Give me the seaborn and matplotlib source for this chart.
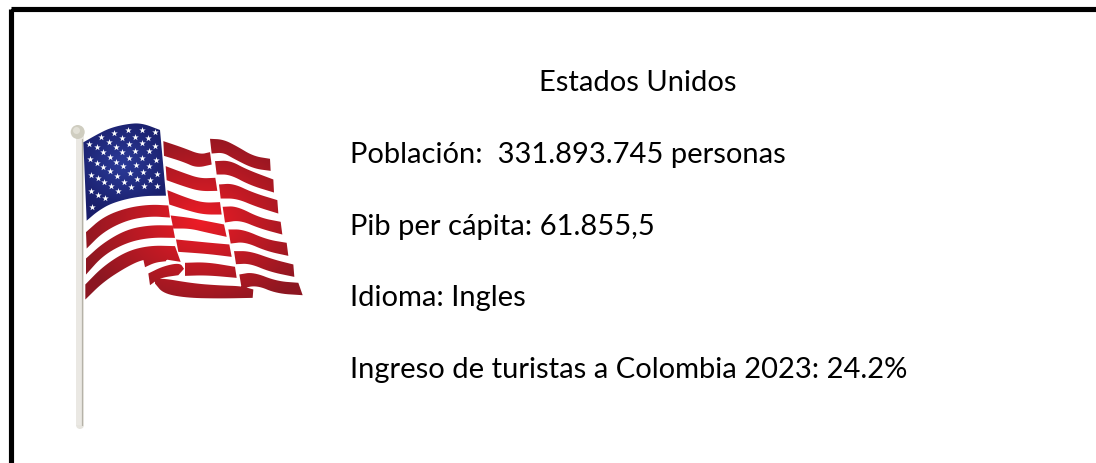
import numpy as np
import pandas as pd
import matplotlib
matplotlib.use("Agg")
import matplotlib.pyplot as plt
import seaborn as sns
from matplotlib.path import Path as MplPath
from matplotlib.patches import PathPatch, Rectangle, Circle

# Card text
title = "Estados Unidos"
info_lines = [
    "Población:  331.893.745 personas",
    "Pib per cápita: 61.855,5",
    "Idioma: Ingles",
    "Ingreso de turistas a Colombia 2023: 24.2%",
]
info_y = [153, 225, 296, 368]

# Flag outlines: (upper edge, lower edge) of each stripe
canton_top = [(70, 85), (110, 62), (150, 42), (200, 30), (245, 27), (300, 48)]
canton_bottom = [(318, 245), (240, 246), (160, 265), (115, 290), (80, 320)]

stripes = [
    ([(78, 358), (130, 312), (200, 285), (270, 275), (325, 278)],
     [(330, 307), (270, 303), (200, 315), (130, 350), (80, 400)]),
    ([(78, 437), (130, 390), (200, 350), (270, 337), (338, 338)],
     [(345, 368), (270, 367), (200, 382), (130, 420), (78, 478)]),
    ([(76, 515), (130, 460), (200, 415), (270, 398), (345, 400)],
     [(362, 440), (300, 430), (250, 432), (200, 455), (130, 500), (76, 553)]),
    ([(310, 85), (370, 105), (420, 125), (450, 118)],
     [(455, 148), (410, 158), (370, 140), (312, 122)]),
    ([(317, 160), (370, 180), (420, 197), (466, 195)],
     [(472, 227), (420, 228), (370, 213), (320, 195)]),
    ([(322, 232), (380, 255), (430, 270), (480, 268)],
     [(485, 298), (430, 298), (380, 285), (328, 268)]),
    ([(332, 308), (390, 315), (440, 325), (492, 335)],
     [(500, 365), (440, 352), (390, 340), (340, 340)]),
    ([(348, 380), (400, 385), (450, 390), (508, 395)],
     [(515, 425), (450, 417), (400, 413), (355, 410)]),
    ([(375, 450), (440, 448), (525, 462)],
     [(530, 488), (440, 480), (375, 482)]),
    ([(285, 505), (300, 495), (400, 512), (480, 518), (545, 520), (580, 530)],
     [(578, 548), (480, 550), (380, 548), (310, 535), (285, 505)]),
    ([(250, 440), (285, 433), (322, 430)],
     [(318, 438), (285, 442), (255, 456)]),
    ([(265, 482), (310, 460), (360, 450), (372, 468)],
     [(355, 480), (300, 488), (270, 510)]),
    ([(450, 78), (490, 80), (530, 100), (580, 130), (630, 138)],
     [(632, 167), (580, 160), (520, 130), (490, 112), (455, 115)]),
    ([(465, 145), (510, 143), (560, 170), (640, 200)],
     [(642, 232), (570, 210), (510, 178), (470, 178)]),
    ([(477, 215), (520, 212), (580, 240), (652, 262)],
     [(655, 295), (590, 275), (530, 250), (482, 250)]),
    ([(488, 282), (530, 280), (600, 315), (662, 327)],
     [(667, 358), (600, 340), (540, 315), (495, 322)]),
    ([(505, 350), (550, 350), (620, 380), (680, 390)],
     [(685, 422), (620, 408), (555, 380), (512, 385)]),
    ([(522, 415), (570, 415), (640, 440), (700, 455)],
     [(703, 485), (630, 470), (570, 445), (528, 447)]),
    ([(538, 485), (580, 478), (650, 505), (715, 510)],
     [(728, 540), (650, 535), (590, 510), (545, 520)]),
]

star_x = [163, 205, 245, 285, 124, 87, 146, 185, 224, 265, 110, 168, 207, 245, 285,
          129, 187, 226, 266, 90, 149, 207, 246, 287, 110, 168, 229, 268, 130, 190,
          93, 151, 210, 250, 290, 113, 170, 231, 271, 133, 191, 212, 252, 291, 152,
          93, 114, 174, 135, 96]
star_y = [57, 48, 48, 55, 70, 90, 83, 72, 68, 72, 100, 100, 90, 88, 96,
          115, 115, 110, 112, 135, 128, 133, 132, 137, 147, 143, 153, 155, 160, 157,
          183, 172, 177, 174, 180, 192, 187, 196, 198, 205, 203, 218, 216, 217, 217,
          232, 242, 230, 252, 278]


def to_px(points):
    # traced points are in 3x crop units starting at (60, 115)
    pts = np.asarray(points, dtype=float)
    return pts / 3.0 + np.array([60.0, 115.0])


def smooth(points, rounds=3):
    pts = np.asarray(points, dtype=float)
    for _ in range(rounds):
        q = 0.75 * pts[:-1] + 0.25 * pts[1:]
        r = 0.25 * pts[:-1] + 0.75 * pts[1:]
        mid = np.empty((2 * len(q), 2))
        mid[0::2] = q
        mid[1::2] = r
        pts = np.vstack([pts[0], mid, pts[-1]])
    return pts


def outline(top, bottom, grow=0.0):
    # grow makes up for what the smoothing takes off a stripe
    upper = smooth(to_px(top)) - np.array([0.0, grow])
    lower = smooth(to_px(bottom)) + np.array([0.0, grow])
    return np.vstack([upper, lower])


def compound_path(polys):
    verts, codes = [], []
    for poly in polys:
        verts.extend(poly.tolist() + [poly[0].tolist()])
        codes.extend([MplPath.MOVETO] + [MplPath.LINETO] * (len(poly) - 1) + [MplPath.CLOSEPOLY])
    return MplPath(verts, codes)


def radial_image(ax, path, center, radius, inner, outer):
    # soft shading of the cloth, clipped to its outline
    x0, y0, x1, y1 = 60, 115, 310, 315
    xx, yy = np.meshgrid(np.linspace(x0, x1, 250), np.linspace(y0, y1, 200))
    t = np.clip(np.hypot((xx - center[0]) / radius[0], (yy - center[1]) / radius[1]), 0, 1)[..., None]
    img = np.array(inner) * (1 - t) + np.array(outer) * t
    im = ax.imshow(img, extent=(x0, x1, y1, y0), aspect="auto", interpolation="bilinear", zorder=3)
    im.set_clip_path(PathPatch(path, transform=ax.transData))


sns.set_theme(style="white")
plt.rcParams["font.family"] = ["Lato", "DejaVu Sans"]

fig, ax = plt.subplots(figsize=(10.96, 4.64), dpi=100)
fig.subplots_adjust(left=0, right=1, top=1, bottom=0)
ax.set_axis_off()

# card border runs off the right and bottom edges
ax.add_patch(Rectangle((10.5, 9.5), 1300, 700, fill=False, edgecolor="black", linewidth=3.7,
                       joinstyle="round", zorder=1))

# pole
ax.add_patch(Rectangle((75.5, 133), 8.5, 293, facecolor="#eae8e3", edgecolor="none", zorder=2))
ax.plot([81.5, 81.5], [140, 426], color="#b5b2a8", linewidth=0.9, zorder=2.1)
ax.add_patch(Circle((80, 426), 4, facecolor="#e6e4de", edgecolor="none", zorder=1.9))
ax.add_patch(Circle((77.7, 133), 7, facecolor="#cfcdc0", edgecolor="none", zorder=4))
ax.add_patch(Circle((76.5, 131.5), 3.5, facecolor="#e2e0d6", edgecolor="none", zorder=4.1))

# cloth
canton_path = compound_path([outline(canton_top, canton_bottom)])
radial_image(ax, canton_path, (122, 165), (52, 48), (0.17, 0.23, 0.60), (0.10, 0.12, 0.42))

stripe_path = compound_path([outline(top, bottom, grow=1.2) for top, bottom in stripes])
radial_image(ax, stripe_path, (200, 222), (125, 95), (0.93, 0.11, 0.15), (0.55, 0.09, 0.13))

star_pts = to_px(list(zip(star_x, star_y)))
stars = pd.DataFrame({"x": star_pts[:, 0], "y": star_pts[:, 1]})
sns.scatterplot(data=stars, x="x", y="y", marker="*", s=24, color="white", linewidth=0,
                legend=False, ax=ax, zorder=5)

# text block
ax.text(638, 83, title, ha="center", va="center", fontsize=21, color="black")
for line, y in zip(info_lines, info_y):
    ax.text(350, y + 2, line, ha="left", va="center", fontsize=21, color="black")

ax.set_xlim(0, 1096)
ax.set_ylim(464, 0)
ax.set_xlabel("")
ax.set_ylabel("")

fig.savefig("out.png", dpi=100, facecolor="white")
